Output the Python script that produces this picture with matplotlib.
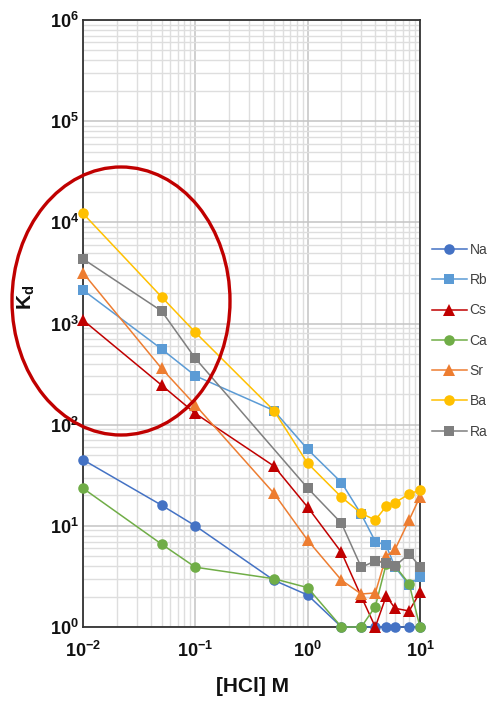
import numpy as np
import matplotlib
matplotlib.use("Agg")
import matplotlib.pyplot as plt
from matplotlib.patches import Ellipse
from matplotlib.lines import Line2D

plt.rcParams['font.family'] = ['Liberation Sans', 'DejaVu Sans']
plt.rcParams['mathtext.fontset'] = 'custom'
plt.rcParams['mathtext.rm'] = 'Liberation Sans'
plt.rcParams['mathtext.it'] = 'Liberation Sans:italic'
plt.rcParams['mathtext.bf'] = 'Liberation Sans:bold'

# ---- data ----
hcl = [0.01, 0.05, 0.1, 0.5, 1, 2, 3, 4, 5, 6, 8, 10]
na = [45, 16, 10, 2.9, 2.07, 1, 1, 1, 1, 1, 1, 1]
rb = [2140, 560, 304, 138, 57, 26.8, 13, 7.0, 6.4, 3.9, 2.6, 3.15]
cs = [1080, 246, 129, 39, 15.3, 5.46, 2.0, 1, 2.02, 1.53, 1.44, 2.2]
ca = [23.5, 6.6, 3.9, 3.0, 2.45, 1, 1, 1.59, 4.2, 4.0, 2.68, 1]
sr = [3170, 360, 156, 21, 7.2, 2.9, 2.12, 2.17, 5.0, 5.85, 11.4, 19.4]
ba = [12250, 1835, 817, 138, 41.5, 19.2, 13.3, 11.4, 15.6, 17.0, 20.6, 22.6]
ra = [4350, 1330, 452, np.nan, 23.6, 10.6, 3.89, 4.5, 4.26, 4.0, 5.3, 3.95]

names = ['Na', 'Rb', 'Cs', 'Ca', 'Sr', 'Ba', 'Ra']
series = [na, rb, cs, ca, sr, ba, ra]
colors = ['#4472C4', '#5B9BD5', '#C00000', '#70AD47', '#ED7D31', '#FFC000', '#7F7F7F']
markers = ['o', 's', '^', 'o', '^', 'o', 's']

xticks = [1e-2, 1e-1, 1e0, 1e1]
xticklabels = [r'$\mathbf{10^{-2}}$', r'$\mathbf{10^{-1}}$', r'$\mathbf{10^{0}}$', r'$\mathbf{10^{1}}$']
yticks = [1e0, 1e1, 1e2, 1e3, 1e4, 1e5, 1e6]
yticklabels = [r'$\mathbf{10^{%d}}$' % i for i in range(7)]

W, H = 494, 701
fig = plt.figure(figsize=(W / 100, H / 100), dpi=100)
ax = fig.add_axes([83 / W, 1 - 627 / H, (420 - 83) / W, (627 - 20) / H])

ax.set_xscale('log')
ax.set_yscale('log')
ax.set_xlim(1e-2, 1e1)
ax.set_ylim(1e0, 1e6)

ax.grid(True, which='minor', color='#dedede', lw=1.0, zorder=0)
ax.grid(True, which='major', color='#c4c4c4', lw=1.1, zorder=0)
ax.set_axisbelow(True)

handles = []
for name, vals, c, m in zip(names, series, colors, markers):
    xv = np.array(hcl, dtype=float)
    yv = np.array(vals, dtype=float)
    ok = np.isfinite(yv)
    ms = 7.6 if m != '^' else 8.0
    ax.plot(xv[ok], yv[ok], color=c, lw=1.1, marker=m, markersize=ms,
            markeredgewidth=0, clip_on=False, zorder=3)
    handles.append(Line2D([], [], color=c, lw=1.1, marker=m, markersize=ms,
                          markeredgewidth=0))

ax.set_xticks(xticks)
ax.set_xticklabels(xticklabels)
ax.set_yticks(yticks)
ax.set_yticklabels(yticklabels)
ax.tick_params(which='both', length=0)
ax.tick_params(axis='x', labelsize=13, pad=10, labelcolor='#111111')
ax.tick_params(axis='y', labelsize=13, pad=3, labelcolor='#111111')

for s in ax.spines.values():
    s.set_color('#333333')
    s.set_linewidth(1.3)

fig.text(26 / W, 1 - 297 / H, r'$\mathbf{K_d}$', rotation=90, fontsize=15,
         ha='center', va='center', color='#111111')
fig.text(252 / W, 1 - 687 / H, '[HCl] M', fontsize=15, ha='center', va='center',
         color='#111111', fontweight='semibold')

leg = fig.legend(handles, names, loc='upper left',
                 bbox_to_anchor=(432 / W, 1 - 243 / H), bbox_transform=fig.transFigure,
                 frameon=False, fontsize=10, handlelength=2.5, handletextpad=0.2,
                 labelspacing=1.17, borderpad=0, borderaxespad=0)
for t in leg.get_texts():
    t.set_color('#404040')

ell = Ellipse((121 / W, 1 - 301 / H), 218 / W, 268 / H, transform=fig.transFigure,
              fill=False, edgecolor='#C00000', lw=2.4, zorder=10)
fig.add_artist(ell)

fig.savefig('out.png', dpi=100)
